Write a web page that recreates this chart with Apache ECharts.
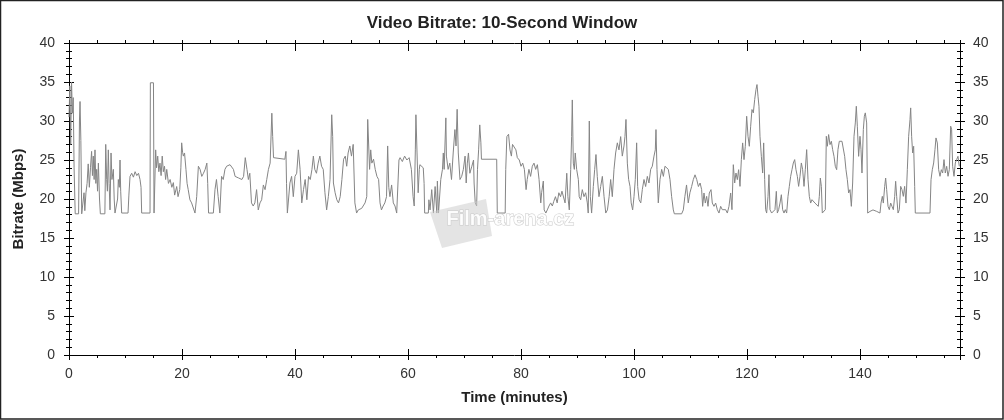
<!DOCTYPE html>
<html>
<head>
<meta charset="utf-8">
<script src="https://cdn.jsdelivr.net/npm/echarts@6/dist/echarts.min.js"></script>
<style>
html,body{margin:0;padding:0;background:#fff;}
#chart{width:1004px;height:420px;}
</style>
</head>
<body>
<div id="chart"></div>
<script>
// Time (minutes) / video bitrate (Mbps) samples, by section
const part1 = [[0,30.5],[0.15,34.5],[0.3,27.0],[0.45,35.0],[0.6,31.0],[0.75,33.0],[0.9,24.0],[1.1,18.1],[1.7,18.1],[1.85,30.0],[1.95,32.5],[2.1,27.5],[2.25,18.1],[2.55,18.1],[2.66,20.8],[2.8,18.5],[3.0,20.8],[3.2,22.0],[3.4,24.5],[3.6,21.5],[3.8,24.0],[4.0,26.1],[4.15,23.0],[4.3,25.5],[4.45,22.5],[4.6,26.3],[4.75,22.0],[4.9,23.8],[5.05,21.0],[5.2,24.6],[5.4,20.0],[5.55,18.1],[6.35,18.1],[6.5,27.0],[6.67,22.5],[6.8,21.0],[6.96,26.3],[7.1,22.0],[7.26,18.6],[7.44,25.9],[7.6,22.5],[7.85,23.8],[8.0,20.0],[8.14,18.2],[8.45,18.2],[8.6,20.0],[8.73,22.5],[8.9,21.5],[9.03,25.0],[9.15,21.0],[9.32,18.2],[10.45,18.2],[10.6,20.5],[10.8,22.9],[11.1,23.3],[11.4,22.8],[11.7,23.5],[12.0,23.0],[12.3,23.3],[12.57,22.5],[12.75,21.5],[12.86,18.2],[14.34,18.2],[14.4,34.9],[14.95,34.9],[15.05,18.2],[15.2,18.2],[15.34,26.3],[15.5,24.0],[15.7,25.5],[15.9,23.5],[16.1,24.6],[16.3,23.0],[16.5,25.5],[16.7,23.5],[16.9,24.2],[17.1,22.5],[17.3,23.8],[17.6,22.0],[17.9,22.5],[18.2,21.5],[18.47,22.1],[18.7,20.5],[19.06,21.6],[19.3,20.3],[19.6,21.2],[19.8,24.0],[19.94,27.2],[20.1,26.0],[20.24,25.5],[20.45,25.9],[20.7,23.8],[20.9,22.0],[21.1,21.2],[21.4,19.9],[21.7,19.5],[22.0,19.5],[22.3,18.2],[22.6,20.3],[22.9,24.2],[23.2,23.8],[23.5,22.9],[23.8,23.3],[24.1,23.8],[24.4,24.6],[24.55,22.0],[24.7,18.2],[25.55,18.2],[25.84,21.2],[26.1,22.5],[26.4,20.3],[26.7,18.2]];
const part2 = [[27.0,22.9],[27.3,22.5],[27.6,23.8],[27.9,24.2],[28.2,24.4],[28.5,24.4],[28.8,24.6],[29.1,23.8],[29.4,22.9],[29.7,23.1],[30.0,22.7],[30.3,22.5],[30.6,22.5],[30.9,22.9],[31.2,25.3],[31.5,23.8],[31.75,22.5],[32.0,23.3],[32.3,19.5],[32.6,19.1],[32.9,19.5],[33.2,21.2],[33.5,18.6],[33.8,19.5],[34.1,19.9],[34.4,21.8],[34.7,21.2],[35.0,22.5],[35.3,23.8],[35.6,24.6],[35.9,31.0],[36.05,28.0],[36.2,25.3],[36.5,25.1],[38.2,25.1],[38.4,26.1],[38.5,22.0],[38.65,18.2],[38.8,18.2],[39.1,22.05],[39.4,22.9],[39.7,20.3],[40.0,22.9],[40.3,23.3],[40.6,26.3],[40.9,23.8],[41.2,19.5],[41.5,21.2],[41.8,22.5],[42.1,19.9],[42.4,22.9],[42.7,22.5],[43.0,23.8],[43.25,25.5],[43.5,23.8],[43.8,23.3],[44.1,24.6],[44.4,25.5],[44.7,24.2],[45.0,23.8],[45.3,20.8],[45.6,18.6],[45.9,20.3],[46.2,22.5],[46.5,30.8],[46.67,28.0],[46.8,22.05],[47.1,20.8],[47.4,19.9],[47.7,19.5],[48.0,20.3],[48.3,22.5],[48.6,25.1],[48.9,25.5],[49.15,24.2],[49.4,25.9],[49.7,26.8],[50.0,25.5],[50.3,27.0],[50.6,19.5],[50.9,18.2],[51.2,18.6],[51.5,18.4],[51.8,18.8],[52.1,18.6],[52.4,19.5],[52.7,20.3],[52.87,30.2],[53.2,23.8],[53.4,26.3],[53.6,24.6],[53.9,25.1],[54.2,23.8],[54.5,22.9],[54.8,22.5],[55.05,19.5],[55.3,18.6],[55.6,19.1],[55.9,19.5],[56.2,20.3],[56.4,26.8],[56.6,21.5],[56.8,20.3]];
const part3 = [[57.1,21.8],[57.4,19.5],[57.7,19.1],[58.0,18.2],[58.3,18.2],[58.4,25.0],[58.6,25.3],[59.0,24.8],[59.4,25.5],[59.8,25.0],[60.2,25.3],[60.6,23.8],[60.9,20.3],[61.1,19.1],[61.3,26.3],[61.4,30.8],[61.6,25.9],[61.8,20.8],[62.0,23.8],[62.1,24.4],[62.4,24.2],[62.7,24.0],[62.85,22.0],[62.95,18.2],[63.6,18.2],[63.7,19.9],[63.9,18.6],[64.2,21.2],[64.5,18.2],[64.8,21.6],[65.1,18.2],[65.2,22.3],[65.4,18.2],[65.7,18.2],[65.8,22.5],[66.1,23.8],[66.25,25.9],[66.4,23.8],[66.7,30.4],[66.8,25.5],[67.1,23.8],[67.4,24.6],[67.7,22.5],[68.0,25.9],[68.3,28.9],[68.5,26.8],[68.7,31.5],[68.9,25.9],[69.2,22.5],[69.5,22.9],[69.8,23.8],[70.1,25.5],[70.3,22.05],[70.5,24.6],[70.7,25.9],[70.95,23.3],[71.3,24.2],[71.6,25.0],[71.7,22.05],[71.9,19.5],[72.15,19.1],[72.3,23.8],[72.5,26.3],[72.7,29.5],[72.9,27.2],[73.0,25.1],[75.7,25.1],[75.8,18.2],[77.2,18.2],[77.3,23.8],[77.5,28.0],[77.8,28.3],[78.05,26.3],[78.3,25.5],[78.5,27.0],[78.8,26.8],[79.1,26.3],[79.35,25.3],[79.7,25.0],[80.0,24.2],[80.3,24.6],[80.6,23.8],[80.9,21.2],[81.1,22.5],[81.4,23.8],[81.7,22.9],[82.0,24.2],[82.3,24.6],[82.6,23.8],[82.9,24.4],[83.2,22.5]];
const part4 = [[83.5,19.5],[83.65,20.8],[83.95,22.3],[84.1,18.6],[84.4,18.2],[84.65,18.6],[84.95,19.1],[85.25,19.5],[85.55,19.1],[85.8,19.7],[86.1,20.3],[86.4,19.5],[86.7,20.8],[87.0,20.3],[87.25,21.0],[87.5,20.8],[87.8,19.5],[88.1,23.3],[88.3,20.3],[88.55,18.6],[88.8,23.8],[88.96,28.0],[89.08,32.7],[89.26,24.6],[89.44,23.8],[89.6,25.9],[89.85,23.8],[90.15,22.5],[90.3,20.3],[90.56,19.9],[90.85,21.2],[91.15,20.3],[91.44,20.8],[91.74,19.5],[91.9,18.2],[92.09,30.0],[92.27,20.3],[92.5,18.2],[92.8,21.6],[93.04,23.8],[93.27,25.7],[93.5,22.9],[93.8,20.3],[94.1,21.6],[94.4,22.9],[94.7,20.3],[95.0,18.2],[95.3,18.6],[95.6,20.3],[95.87,22.5],[96.16,20.3],[96.46,23.8],[96.75,25.9],[97.05,27.2],[97.34,26.3],[97.64,28.0],[97.93,25.5],[98.23,26.8],[98.4,28.0],[98.58,30.2],[98.82,24.6],[99.05,22.5],[99.3,21.6],[99.5,19.5],[99.76,18.6],[100.0,20.3],[100.23,22.5],[100.47,27.2],[100.65,21.6],[100.9,19.9],[101.2,19.5],[101.47,21.2],[101.77,22.5],[102.06,21.6],[102.36,22.9],[102.65,22.05],[102.95,23.8],[103.24,24.2],[103.54,25.5],[103.77,26.3],[103.89,28.9],[104.07,23.8],[104.3,19.5],[104.6,22.5],[104.9,23.8],[105.2,22.9],[105.48,24.2],[105.78,24.4],[106.07,23.8],[106.37,22.5],[106.66,20.3],[106.96,18.6],[107.14,18.1],[108.43,18.1],[108.73,18.6],[109.0,20.3],[109.3,21.8],[109.6,19.5],[109.9,20.8],[110.2,21.6],[110.5,22.5],[110.8,23.1],[111.1,22.5],[111.4,21.6],[111.7,22.05]];
const part5 = [[111.97,21.2],[112.15,19.06],[112.39,20.77],[112.62,19.48],[112.86,20.34],[113.1,19.06],[113.33,20.77],[113.63,21.2],[113.86,19.48],[114.16,19.06],[114.45,19.48],[114.75,18.63],[115.04,18.2],[115.34,19.06],[115.63,18.63],[115.93,18.41],[116.22,18.63],[116.52,18.2],[116.81,19.06],[117.11,20.77],[117.34,18.63],[117.58,24.4],[117.82,22.05],[118.05,23.33],[118.29,22.48],[118.52,23.76],[118.76,21.62],[119.0,25.05],[119.23,27.19],[119.47,25.05],[119.7,26.76],[119.94,30.61],[120.18,28.04],[120.41,26.76],[120.65,29.33],[120.88,31.47],[121.12,31.04],[121.36,32.75],[121.59,34.03],[121.77,34.67],[121.95,33.18],[122.12,31.89],[122.3,28.04],[122.54,25.47],[122.77,23.33],[122.95,27.19],[123.13,22.48],[123.3,18.63],[123.48,18.2],[123.72,20.34],[123.89,23.12],[124.07,18.63],[124.36,18.2],[124.66,18.41],[124.95,18.63],[125.19,20.98],[125.37,18.2],[125.6,18.63],[125.84,19.48],[126.08,20.55],[126.31,18.63],[126.55,18.2],[126.78,18.63],[127.02,18.2],[127.26,20.34],[127.49,21.62],[127.73,22.91],[127.96,23.76],[128.2,24.62],[128.44,25.05],[128.67,23.76],[128.91,22.91],[129.14,21.62],[129.38,22.91],[129.62,24.62],[129.85,23.76],[130.09,21.62],[130.32,23.76],[130.56,26.33],[130.8,22.48],[131.03,20.34],[131.27,19.48],[131.5,19.91],[131.74,19.7],[132.03,19.48],[132.33,19.48],[132.62,19.06],[132.8,20.34],[132.98,22.69],[133.16,21.62],[133.33,18.2],[133.63,18.2],[133.86,18.63],[134.04,28.04],[134.22,26.76],[134.45,28.26],[134.69,26.97],[134.93,27.4],[135.16,26.33],[135.4,25.47],[135.63,24.19],[135.87,23.76],[136.1,26.33],[136.34,27.4],[136.58,27.19],[136.81,27.4],[137.05,27.19],[137.29,25.47],[137.52,23.76],[137.76,22.48],[137.99,20.77],[138.23,21.2],[138.47,19.06],[138.7,22.05],[138.94,28.04],[139.17,29.75],[139.35,31.89],[139.53,29.33],[139.76,25.47]];
const part6 = [[140.0,28.04],[140.18,26.33],[140.35,23.33],[140.59,28.9],[140.77,30.61],[140.94,31.04],[141.18,29.75],[141.36,18.2],[141.77,18.41],[142.3,18.6],[142.95,18.41],[143.54,18.2],[143.72,19.48],[143.95,20.34],[144.13,19.48],[144.37,21.62],[144.54,22.69],[144.72,21.2],[144.96,19.06],[145.19,18.63],[145.43,19.48],[145.66,19.06],[145.9,18.63],[146.14,20.34],[146.31,22.27],[146.49,20.34],[146.73,18.2],[146.96,18.63],[147.2,21.62],[147.43,21.2],[147.67,20.34],[147.9,21.62],[148.14,19.48],[148.38,23.76],[148.61,28.04],[148.85,30.18],[148.97,31.68],[149.14,28.04],[149.32,25.9],[149.5,26.76],[149.68,21.62],[149.79,18.2],[152.39,18.2],[152.57,22.48],[152.8,23.76],[153.04,24.62],[153.27,26.33],[153.45,27.83],[153.69,27.19],[153.92,23.76],[154.16,22.91],[154.4,23.76],[154.63,23.33],[154.87,25.05],[155.1,23.33],[155.34,24.19],[155.58,22.91],[155.81,23.76],[156.05,29.33],[156.22,28.9],[156.4,24.19],[156.64,22.91],[156.87,24.62],[157.1,25.05],[157.34,25.47],[157.58,24.19]];

const xTickLabels = [0, 20, 40, 60, 80, 100, 120, 140];
const yTickLabels = [0, 5, 10, 15, 20, 25, 30, 35, 40];
const xMax = 157.7;

const FONT = '"Liberation Sans", Arial, sans-serif';
const bitrateData = [].concat(part1, part2, part3, part4, part5, part6);

const rect = { left: 69, right: 44, top: 43, bottom: 65, outerBoundsMode: 'none' };
const black = { color: '#000', width: 1 };

function xAx(extra) {
  return Object.assign({
    type: 'value', min: 0, max: xMax, interval: 20,
    axisLine: { show: false, onZero: false, lineStyle: black },
    axisTick: { show: false },
    axisLabel: { show: false },
    splitLine: { show: false },
    minorTick: { show: false }
  }, extra);
}
function yAx(extra) {
  return Object.assign({
    type: 'value', min: 0, max: 40, interval: 5,
    axisLine: { show: false, onZero: false, lineStyle: black },
    axisTick: { show: false },
    axisLabel: { show: false },
    splitLine: { show: false },
    minorTick: { show: false }
  }, extra);
}
const labelStyle = { fontFamily: FONT, fontSize: 14, color: '#333' };
const nameStyle = { fontFamily: FONT, fontSize: 15, fontWeight: 'bold', color: '#222' };

const option = {
  animation: false,
  backgroundColor: '#fff',
  title: {
    text: 'Video Bitrate: 10-Second Window',
    left: 'center', top: 10,
    textStyle: { fontFamily: FONT, fontSize: 17, fontWeight: 'bold', color: '#222' }
  },
  grid: [Object.assign({}, rect), Object.assign({}, rect), Object.assign({}, rect)],
  xAxis: [
    xAx({ gridIndex: 0, position: 'bottom',
      axisLine: { show: true, onZero: false, lineStyle: black },
      axisTick: { show: true, inside: false, length: 5, lineStyle: black },
      axisLabel: Object.assign({ show: true, margin: 12,
        formatter: v => xTickLabels.includes(v) ? String(v) : '' }, labelStyle),
      name: 'Time (minutes)', nameLocation: 'middle', nameGap: 35, nameTextStyle: nameStyle }),
    xAx({ gridIndex: 0, position: 'top',
      axisLine: { show: true, onZero: false, lineStyle: black },
      axisTick: { show: true, inside: true, length: 8, lineStyle: black } }),
    xAx({ gridIndex: 1, position: 'bottom', interval: 5,
      axisTick: { show: true, inside: false, length: 3, lineStyle: black } }),
    xAx({ gridIndex: 1, position: 'top', interval: 5,
      axisTick: { show: true, inside: false, length: 3, lineStyle: black } }),
    xAx({ gridIndex: 2, position: 'bottom',
      axisTick: { show: true, inside: true, length: 6, lineStyle: black } })
  ],
  yAxis: [
    yAx({ gridIndex: 0, position: 'left',
      axisLine: { show: true, onZero: false, lineStyle: black },
      axisTick: { show: true, inside: false, length: 5, lineStyle: black },
      minorTick: { show: true, splitNumber: 5, length: 3, lineStyle: black },
      axisLabel: Object.assign({ show: true, margin: 14,
        formatter: v => yTickLabels.includes(v) ? String(v) : '' }, labelStyle),
      name: 'Bitrate (Mbps)', nameLocation: 'middle', nameGap: 43, nameRotate: 90, nameTextStyle: nameStyle }),
    yAx({ gridIndex: 0, position: 'right',
      axisLine: { show: true, onZero: false, lineStyle: black },
      axisTick: { show: true, inside: false, length: 5, lineStyle: black },
      minorTick: { show: true, splitNumber: 5, length: 3, lineStyle: black },
      axisLabel: Object.assign({ show: true, margin: 13,
        formatter: v => yTickLabels.includes(v) ? String(v) : '' }, labelStyle) }),
    yAx({ gridIndex: 1, position: 'left',
      axisTick: { show: true, inside: true, length: 5, lineStyle: black },
      minorTick: { show: true, splitNumber: 5, length: 3, lineStyle: black } }),
    yAx({ gridIndex: 1, position: 'right',
      axisTick: { show: true, inside: true, length: 5, lineStyle: black },
      minorTick: { show: true, splitNumber: 5, length: 3, lineStyle: black } }),
    yAx({ gridIndex: 2, show: false })
  ],
  series: [{
    type: 'line', xAxisIndex: 0, yAxisIndex: 0,
    data: bitrateData,
    showSymbol: false, symbol: 'none',
    lineStyle: { color: '#858585', width: 1 },
    z: 2
  }],
  graphic: [
    { type: 'rect', shape: { x: 0.5, y: 0.5, width: 1002.5, height: 418.5 },
      style: { fill: null, stroke: '#222', lineWidth: 1.5 }, silent: true, z: 10 },
    { type: 'polygon', shape: { points: [[430, 212], [486, 199], [492, 236], [442, 248]] },
      style: { fill: 'rgba(205,205,205,0.55)' }, silent: true, z: 5 },
    { type: 'text', left: 446, top: 209,
      style: { text: 'Film-arena.cz', font: 'bold 20px ' + FONT, fill: 'rgba(255,255,255,0.9)',
        stroke: '#c9c9c9', lineWidth: 1 }, silent: true, z: 6 }
  ]
};

const chart = echarts.init(document.getElementById('chart'), null, { renderer: 'canvas' });
chart.setOption(option);
</script>
</body>
</html>
